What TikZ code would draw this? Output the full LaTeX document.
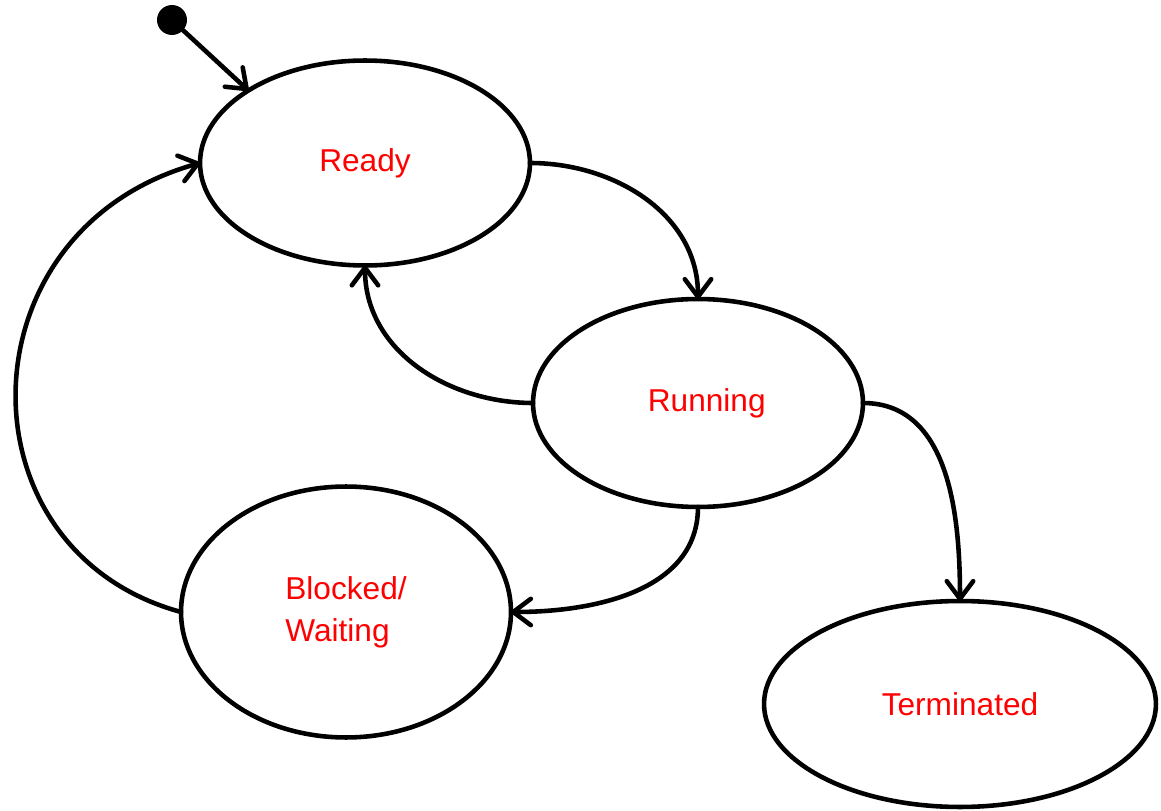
\documentclass[tikz,border=0pt]{standalone}
\usepackage{fontspec}
\setmainfont{Liberation Sans}
\usepackage{tikz}
\usetikzlibrary{shapes.geometric,arrows.meta}

\begin{document}
\begin{tikzpicture}[x=0.02cm, y=-0.02cm,
            state/.style={ellipse, draw, line width=2.6pt, inner sep=0pt, outer sep=0pt, minimum width=6.6cm, minimum height=4.1cm, align=left, text=red, font=\fontsize{18}{24}\selectfont},
            initdot/.style={circle, fill, inner sep=0pt, minimum size=0.6cm},
            arrow/.style={-{Straight Barb[length=10pt, width=15pt, round]}, line width=2.6pt, line cap=round}
        ]
            \useasboundingbox (0,0) rectangle (1161,811);
            \node[initdot] (init) at (172,20) {};
            \node[state] (ready) at (365,163) {Ready};
            \node[state, minimum height=4.16cm] (running) at (698,403) {\hspace*{0.35cm}Running};
            \node[state, minimum height=5.02cm] (blocked) at (346,612) {Blocked/\\Waiting};
            \node[state, minimum width=7.84cm, minimum height=4.12cm] (terminated) at (960,704) {Terminated};

            \draw[arrow] (init) -- (ready.north west);
            \draw[arrow] (ready.east) to[out=0, in=90] (running.north);
            \draw[arrow] (running.west) to[out=180, in=-90] (ready.south);
            \draw[arrow] (running.east) to[out=0, in=90] (terminated.north);
            \draw[arrow] (running.south) to[out=-90, in=0] (blocked.east);
            \draw[arrow] (blocked.west) .. controls +(-225,-61) and +(-240,67) .. (ready.west);
        \end{tikzpicture}
\end{document}
